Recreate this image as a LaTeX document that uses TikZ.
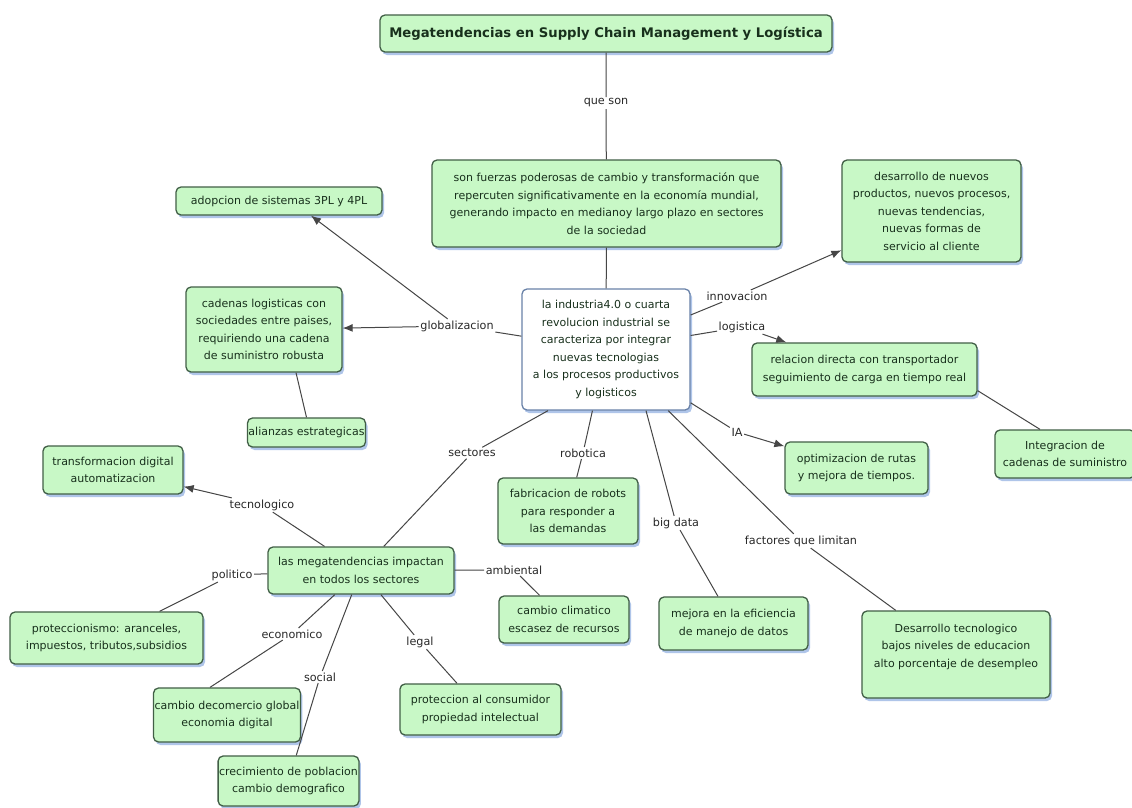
\documentclass[tikz,border=0pt]{standalone}
\usepackage{fontspec}
\setmainfont{DejaVu Sans}
\usetikzlibrary{arrows.meta,shadows}

\definecolor{boxfill}{RGB}{200,248,198}
\definecolor{boxline}{RGB}{65,95,70}
\definecolor{shadowblue}{RGB}{110,150,215}
\definecolor{txt}{RGB}{24,48,28}
\definecolor{linkcol}{RGB}{70,70,70}
\definecolor{linktxt}{RGB}{40,40,40}
\definecolor{hubline}{RGB}{105,130,168}

\tikzset{
  concept/.style={draw=boxline, fill=boxfill, line width=1.3pt, rounded corners=5pt,
    align=center, text=txt, font=\fontsize{11}{17.5}\selectfont, inner sep=3pt,
    drop shadow={shadow xshift=2pt, shadow yshift=-3pt, fill=shadowblue, opacity=0.55}},
  tight/.style={inner xsep=1pt},
  hub/.style={concept, fill=white, draw=hubline},
  heading/.style={concept, font=\bfseries\fontsize{13.2}{16}\selectfont},
  link/.style={text=linktxt, font=\fontsize{11.2}{13}\selectfont, inner sep=1.5pt},
  conn/.style={draw=linkcol, line width=1pt},
  arr/.style={conn, -{Latex[length=10pt,width=8pt]}},
}

\begin{document}
\begin{tikzpicture}[x=1pt,y=-1pt]
\useasboundingbox (0,0) rectangle (1132,807);
\fill[white] (0,0) rectangle (1132,807);

% concepts
\node[heading, minimum width=452pt, minimum height=37pt] (title) at (606,33.5)
  {Megatendencias en Supply Chain Management y Logística};
\node[concept, minimum width=349pt, minimum height=87pt] (def) at (606.5,203.5)
  {son fuerzas poderosas de cambio y transformación que\\repercuten significativamente en la economía mundial,\\generando impacto en medianoy largo plazo en sectores\\de la sociedad};
\node[hub, minimum width=168pt, minimum height=121pt] (hub) at (606,349.5)
  {la industria4.0 o cuarta\\revolucion industrial se\\caracteriza por integrar\\nuevas tecnologias\\a los procesos productivos\\y logisticos};
\node[concept, minimum width=206pt, minimum height=28pt] (adop) at (279,201)
  {adopcion de sistemas 3PL y 4PL};
\node[concept, minimum width=156pt, minimum height=85pt] (cad) at (264,329.5)
  {cadenas logisticas con\\sociedades entre paises,\\requiriendo una cadena\\de suministro robusta};
\node[concept, tight, minimum width=113pt, minimum height=29pt] (ali) at (306.5,432.5)
  {alianzas estrategicas};
\node[concept, minimum width=179pt, minimum height=102pt] (des) at (931.5,211)
  {desarrollo de nuevos\\productos, nuevos procesos,\\nuevas tendencias,\\nuevas formas de\\servicio al cliente};
\node[concept, minimum width=225pt, minimum height=53pt] (rel) at (864.5,369.5)
  {relacion directa con transportador\\seguimiento de carga en tiempo real};
\node[concept, minimum width=140pt, minimum height=48pt] (integ) at (1065,454)
  {Integracion de\\cadenas de suministro};
\node[concept, minimum width=143pt, minimum height=52pt] (opt) at (856.5,468)
  {optimizacion de rutas\\y mejora de tiempos.};
\node[concept, minimum width=140pt, minimum height=66pt] (fab) at (568,511)
  {fabricacion de robots\\para responder a\\las demandas};
\node[concept, minimum width=149pt, minimum height=53pt] (efi) at (733.5,623.5)
  {mejora en la eficiencia\\de manejo de datos};
\node[concept, minimum width=188pt, minimum height=87pt] (lim) at (956,654.5)
  {Desarrollo tecnologico\\bajos niveles de educacion\\alto porcentaje de desempleo\\\mbox{}};
\node[concept, minimum width=186pt, minimum height=47pt] (meg) at (361,570.5)
  {las megatendencias impactan\\en todos los sectores};
\node[concept, minimum width=140pt, minimum height=48pt] (tra) at (113,470)
  {transformacion digital\\automatizacion};
\node[concept, minimum width=193pt, minimum height=52pt] (pro) at (106.5,638)
  {proteccionismo: aranceles,\\impuestos, tributos,subsidios};
\node[concept, tight, minimum width=142pt, minimum height=54pt] (com) at (227,715)
  {cambio decomercio global\\economia digital};
\node[concept, tight, minimum width=139pt, minimum height=50pt] (pob) at (288.5,781)
  {crecimiento de poblacion\\cambio demografico};
\node[concept, minimum width=161pt, minimum height=51pt] (cons) at (480.5,709.5)
  {proteccion al consumidor\\propiedad intelectual};
\node[concept, minimum width=130pt, minimum height=47pt] (clim) at (564,619.5)
  {cambio climatico\\escasez de recursos};

% linking phrases
\node[link] (lqs)   at (606,103) {que son};
\node[link] (lglob) at (457,326) {globalizacion};
\node[link] (linn)  at (737,296) {innovacion};
\node[link] (llog)  at (742,327) {logistica};
\node[link] (lia)   at (737,432) {IA};
\node[link] (lsec)  at (472,453) {sectores};
\node[link] (lrob)  at (583,453) {robotica};
\node[link] (lbig)  at (676,523) {big data};
\node[link] (lfac)  at (801,541) {factores que limitan};
\node[link] (ltec)  at (262,505) {tecnologico};
\node[link] (lpol)  at (232,575) {politico};
\node[link] (lamb)  at (514,570) {ambiental};
\node[link] (leco)  at (292,634) {economico};
\node[link] (lsoc)  at (320,677) {social};
\node[link] (lleg)  at (420,642) {legal};

% connectors
\draw[conn] (title) -- (lqs) -- (def);
\draw[conn] (def) -- (hub);
\draw[conn] (hub) -- (lglob);
\draw[arr]  (lglob) -- (cad);
\draw[arr]  (lglob) -- ([xshift=32pt]adop.south);
\draw[conn] ([xshift=32pt]cad.south) -- (ali.north);
\draw[conn] (hub) -- (linn);
\draw[arr]  (linn) -- (des);
\draw[conn] (hub) -- (llog);
\draw[arr]  (llog) -- (rel);
\draw[conn] ([yshift=6pt]rel.south east) -- ([xshift=-25pt]integ.north);
\draw[conn] (hub) -- (lia);
\draw[arr]  (lia) -- (opt);
\draw[conn] (hub) -- (lfac);
\draw[conn] (lfac) -- (lim);
\draw[conn] ([xshift=40pt]hub.south) -- (lbig);
\draw[conn] (lbig) -- (efi);
\draw[conn] (hub) -- (lrob);
\draw[conn] (lrob) -- (fab);
\draw[conn] ([xshift=-58pt]hub.south) -- (lsec);
\draw[conn] (lsec) -- (meg);
\draw[conn] (meg) -- (ltec);
\draw[arr]  (ltec) -- (tra);
\draw[conn] (meg) -- (lpol);
\draw[conn] (lpol) -- (pro);
\draw[conn] (meg) -- (lamb);
\draw[conn] (lamb) -- (clim);
\draw[conn] (meg) -- (leco);
\draw[conn] (leco) -- ([xshift=-17pt]com.north);
\draw[conn] (meg) -- (lsoc);
\draw[conn] (lsoc) -- (pob);
\draw[conn] (meg) -- (lleg);
\draw[conn] (lleg) -- (cons);
\end{tikzpicture}
\end{document}
